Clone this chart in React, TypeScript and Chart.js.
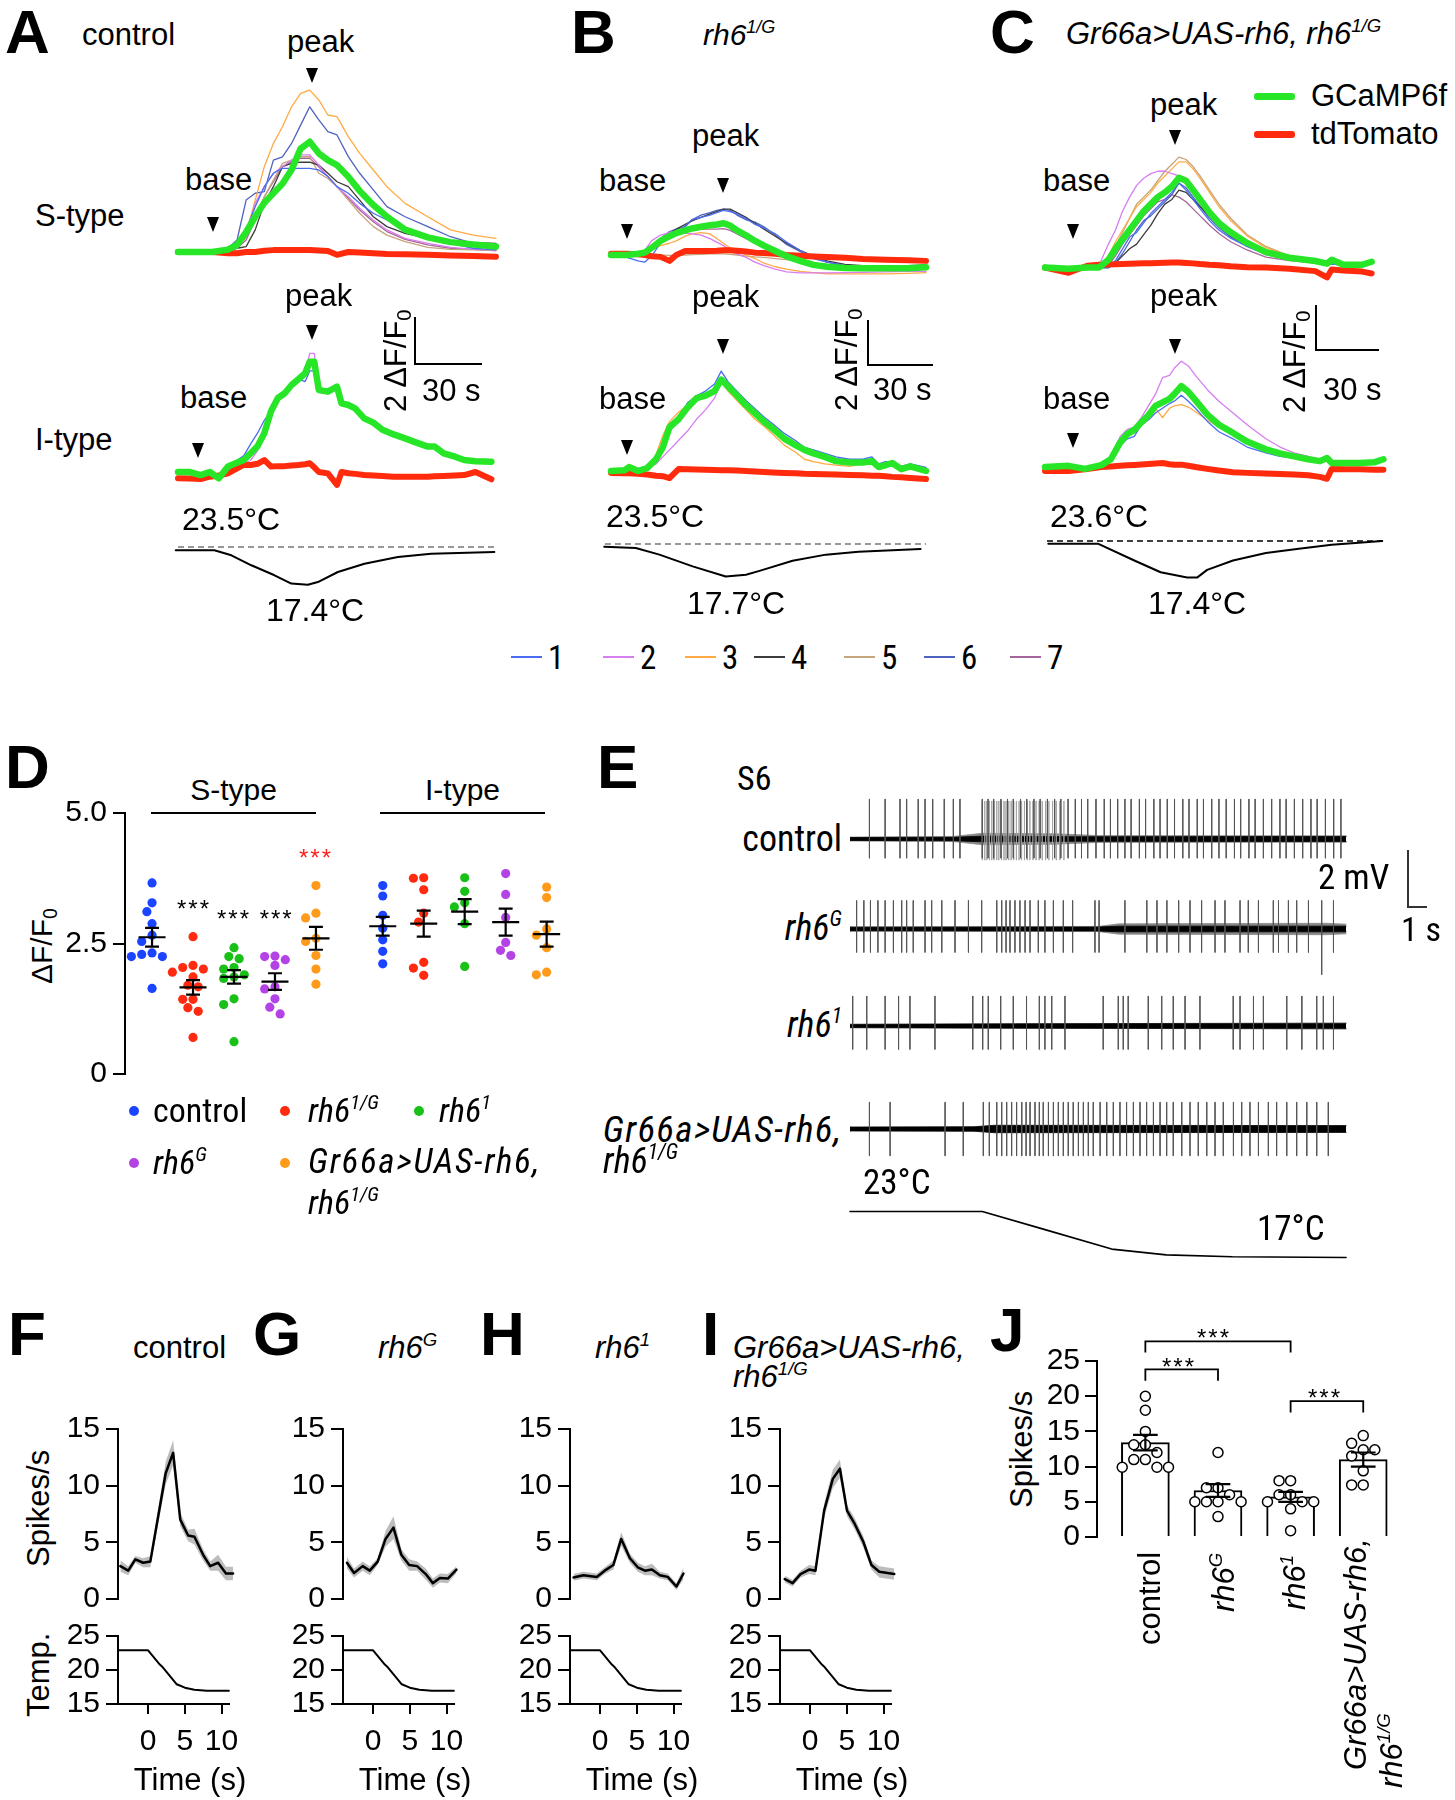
import React, { useEffect, useRef } from "react";
import { Chart, registerables } from "chart.js";
Chart.register(...registerables);

const SANS = '"Liberation Sans", Arial, Helvetica, sans-serif';
const NARROW = '"Liberation Sans Narrow", "Arial Narrow", "Roboto Condensed", "Liberation Sans", sans-serif';

const GREEN = "#27e627";
const RED = "#ff2b0c";
const THIN_COLORS = ["#4a6cf0", "#d77ef0", "#ffaa44", "#3c3c3c", "#c6a47c", "#4f62c0", "#a5659a"];
const THIN_LABELS = ["1", "2", "3", "4", "5", "6", "7"];

// ---------------- Panel A (control) ----------------
const A_S_T = [0, 15, 22, 26, 30, 34, 38, 42, 46, 50, 54, 58, 62, 66, 70, 75, 80, 86, 92, 100, 110, 120, 130, 140];
const A_S_GREEN = [0, 0, 0.1, 0.3, 0.85, 1.5, 2.1, 2.5, 2.9, 3.5, 4.4, 4.69, 4.2, 3.91, 3.7, 3.2, 2.6, 2.0, 1.5, 0.95, 0.62, 0.42, 0.32, 0.23];
const A_S_RED = [0, 0, -0.05, -0.05, 0, 0, 0.05, 0.08, 0.08, 0.08, 0.08, 0.08, 0.06, 0.04, -0.12, 0, -0.02, -0.05, -0.08, -0.1, -0.12, -0.15, -0.17, -0.2];
const A_S_1 = [0, 0, 0.09, 0.3, 0.94, 1.93, 2.78, 3.35, 3.56, 3.56, 3.56, 3.56, 3.49, 3.21, 2.78, 2.5, 2.07, 1.65, 1.36, 0.94, 0.65, 0.37, 0.16, 0.09];
const A_S_2 = [0, 0, 0, 0.16, 0.79, 2.07, 2.78, 3.35, 3.63, 3.91, 4.13, 4.13, 3.7, 3.21, 2.78, 2.35, 1.86, 1.36, 0.94, 0.58, 0.37, 0.2, 0.11, 0.09];
const A_S_3 = [0, 0, 0.07, 0.16, 0.79, 2.21, 3.63, 4.62, 5.33, 6.18, 6.75, 6.89, 6.47, 5.83, 5.76, 4.91, 4.2, 3.49, 2.78, 2.07, 1.5, 0.94, 0.72, 0.58];
const A_S_4 = [0, 0, 0, 0.16, 0.23, 0.94, 2.07, 2.78, 3.63, 3.77, 3.82, 3.82, 3.7, 3.35, 2.99, 2.78, 2.21, 1.5, 1.08, 0.79, 0.58, 0.44, 0.4, 0.37];
const A_S_5 = [0, 0, 0, 0.16, 0.65, 1.5, 2.35, 3.06, 3.77, 3.91, 4.06, 4.06, 3.35, 3.13, 2.78, 2.21, 1.65, 1.08, 0.72, 0.44, 0.2, 0.11, 0.09, 0.06];
const A_S_6 = [0, 0, 0.16, 0.51, 2.21, 2.5, 2.57, 3.91, 4.05, 4.62, 5.4, 6.18, 5.62, 5.12, 4.98, 4.06, 3.35, 2.64, 1.93, 1.5, 1.08, 0.65, 0.37, 0.23];
const A_S_7 = [0, 0, 0, 0.16, 0.51, 1.36, 2.35, 2.99, 3.63, 3.84, 3.99, 3.99, 3.63, 3.21, 2.78, 2.28, 1.79, 1.29, 0.87, 0.54, 0.3, 0.16, 0.11, 0.06];

const A_I_T = [0, 5, 10, 14, 18, 22, 26, 29, 32, 35, 38, 41, 44, 47, 50, 53, 56, 58, 60, 62, 66, 70, 72, 75, 78, 82, 86, 90, 95, 100, 105, 110, 113, 117, 122, 126, 131, 138];
const A_I_GREEN = [0, 0, -0.13, 0, -0.27, 0.23, 0.4, 0.51, 0.8, 1.1, 1.65, 2.6, 3.15, 3.35, 3.7, 3.95, 4.2, 4.69, 4.69, 3.49, 3.42, 3.63, 2.92, 2.85, 2.71, 2.28, 2.1, 1.8, 1.6, 1.43, 1.25, 1.08, 1.08, 0.79, 0.65, 0.51, 0.46, 0.44];
const A_I_RED = [-0.27, -0.28, -0.3, -0.2, -0.15, -0.06, 0.15, 0.3, 0.3, 0.35, 0.51, 0.23, 0.25, 0.25, 0.28, 0.3, 0.33, 0.37, 0.2, 0, -0.06, -0.55, 0, -0.05, -0.08, -0.13, -0.15, -0.17, -0.2, -0.2, -0.2, -0.2, -0.18, -0.17, -0.15, -0.13, 0, -0.31];
const A_I_1 = [0, 0, -0.1, 0, -0.2, 0.3, 0.5, 0.7, 1.2, 1.65, 2.2, 2.6, 3.15, 3.35, 3.7, 3.95, 3.85, 4.3, 4.3, 3.5, 3.42, 3.6, 2.95, 2.85, 2.75, 2.3, 2.1, 1.85, 1.6, 1.45, 1.25, 1.1, 1.1, 0.8, 0.65, 0.52, 0.46, 0.44];
const A_I_2 = [0, 0, -0.1, 0, -0.2, 0.2, 0.3, 0.35, 0.5, 0.9, 1.6, 2.6, 3.15, 3.35, 3.7, 3.95, 4.2, 5.05, 5.05, 3.5, 3.42, 3.63, 2.92, 2.85, 2.71, 2.28, 2.1, 1.8, 1.6, 1.43, 1.25, 1.08, 1.08, 0.79, 0.65, 0.51, 0.46, 0.44];

const A_TEMP_T = [-1, 16, 23.5, 32.3, 42.5, 49.9, 57.2, 61.6, 70.4, 82.1, 96.8, 111.5, 139.3];
const A_TEMP = [22.97, 22.97, 22.16, 20.55, 18.94, 17.6, 17.4, 17.85, 19.47, 20.8, 21.9, 22.4, 22.7];

// ---------------- Panel B (rh6 1/G) ----------------
const B_S_T = [0, 7, 12, 15, 18, 22, 26, 29, 33, 36, 40, 44, 47, 50, 53, 56, 60, 64, 68, 73, 78, 84, 90, 96, 104, 112, 122, 132, 140];
const B_S_GREEN = [0, 0, 0.05, 0.1, 0.3, 0.6, 0.8, 0.93, 1.05, 1.13, 1.2, 1.27, 1.3, 1.35, 1.25, 1.05, 0.84, 0.6, 0.4, 0.17, -0.05, -0.25, -0.42, -0.5, -0.55, -0.56, -0.56, -0.56, -0.52];
const B_S_RED = [0.05, 0.05, 0.03, 0, -0.05, -0.08, -0.25, 0, 0.17, 0.17, 0.17, 0.17, 0.18, 0.2, 0.2, 0.18, 0.15, 0.1, 0.08, 0.05, 0, -0.03, -0.06, -0.08, -0.12, -0.17, -0.2, -0.22, -0.25];
const B_S_1 = [0, -0.1, -0.25, -0.3, -0.05, 0.5, 0.7, 0.9, 1.25, 1.5, 1.6, 1.7, 1.8, 1.9, 1.85, 1.75, 1.55, 1.3, 1.15, 0.9, 0.55, 0.2, -0.1, -0.3, -0.45, -0.5, -0.5, -0.5, -0.48];
const B_S_2 = [0, 0, 0.05, 0.2, 0.6, 0.85, 0.95, 1.0, 0.93, 0.9, 0.85, 0.7, 0.55, 0.4, 0.2, 0.05, -0.1, -0.3, -0.45, -0.6, -0.72, -0.76, -0.76, -0.76, -0.75, -0.74, -0.72, -0.7, -0.7];
const B_S_3 = [0, 0, 0.05, 0.1, 0.25, 0.4, 0.5, 0.6, 0.8, 0.9, 0.95, 0.9, 0.7, 0.5, 0.3, 0.15, 0, -0.15, -0.35, -0.5, -0.6, -0.7, -0.75, -0.8, -0.8, -0.8, -0.8, -0.78, -0.75];
const B_S_4 = [0, 0, 0.05, 0.1, 0.3, 0.6, 0.9, 1.1, 1.3, 1.45, 1.6, 1.75, 1.85, 1.95, 1.95, 1.8, 1.6, 1.35, 1.1, 0.8, 0.5, 0.2, -0.05, -0.25, -0.4, -0.45, -0.45, -0.45, -0.42];
const B_S_5 = [0, 0, 0, 0, 0, 0, -0.02, -0.02, 0, 0.02, 0.03, 0.05, 0.05, 0.05, 0.03, 0, -0.05, -0.08, -0.1, -0.15, -0.2, -0.3, -0.35, -0.4, -0.45, -0.5, -0.5, -0.5, -0.5];
const B_S_6 = [0, 0, 0, 0.05, 0.4, 0.7, 1.0, 1.1, 1.2, 1.5, 1.7, 1.8, 1.9, 1.95, 1.9, 1.7, 1.5, 1.4, 1.2, 0.85, 0.45, 0.15, -0.15, -0.3, -0.45, -0.5, -0.5, -0.5, -0.5];
const B_S_7 = [0, 0, 0.05, 0.1, 0.35, 0.6, 0.8, 0.95, 1.0, 1.05, 1.1, 1.1, 1.1, 1.12, 1.05, 0.9, 0.7, 0.5, 0.3, 0.1, -0.1, -0.3, -0.45, -0.5, -0.5, -0.5, -0.5, -0.5, -0.48];

const B_I_T = [0, 6, 8, 12, 16, 20, 23, 26, 30, 34, 38, 42, 46, 49, 52, 56, 60, 64, 68, 72, 77, 82, 86, 90, 95, 100, 106, 112, 116, 119, 122, 125, 129, 133, 140];
const B_I_GREEN = [0, 0.03, 0.17, 0, 0.12, 0.5, 1.0, 1.86, 2.2, 2.7, 3.1, 3.21, 3.4, 3.89, 3.6, 3.21, 2.8, 2.45, 2.1, 1.8, 1.38, 1.1, 0.9, 0.75, 0.6, 0.42, 0.36, 0.36, 0.42, 0.17, 0.25, 0.34, 0.08, 0.2, 0];
const B_I_RED = [-0.08, -0.1, -0.1, -0.12, -0.15, -0.2, -0.22, -0.3, 0.08, 0.07, 0.06, 0.05, 0.04, 0.03, 0.03, 0.02, 0, -0.02, -0.04, -0.06, -0.08, -0.1, -0.12, -0.13, -0.14, -0.15, -0.17, -0.18, -0.2, -0.2, -0.22, -0.25, -0.27, -0.3, -0.34];
const B_I_1 = [0, 0.02, 0.1, 0, 0.1, 0.5, 1.0, 1.7, 2.2, 2.9, 3.2, 3.4, 3.7, 4.25, 3.8, 3.4, 3.0, 2.65, 2.3, 2.0, 1.6, 1.3, 1.0, 0.9, 0.75, 0.6, 0.5, 0.5, 0.6, 0.3, 0.4, 0.4, 0.2, 0.3, 0.15];
const B_I_2 = [0, 0.02, 0.1, 0, 0.1, 0.3, 0.6, 0.9, 1.3, 1.7, 2.2, 2.6, 3.1, 3.8, 3.6, 3.3, 2.9, 2.55, 2.2, 1.9, 1.5, 1.2, 1.0, 0.85, 0.7, 0.55, 0.45, 0.4, 0.45, 0.2, 0.3, 0.3, 0.1, 0.2, 0.05];
const B_I_3 = [0, 0.02, 0.1, 0, 0.15, 0.7, 1.5, 2.1, 2.5, 2.8, 3.2, 3.2, 3.3, 3.8, 3.4, 3.0, 2.6, 2.2, 1.9, 1.55, 1.1, 0.8, 0.5, 0.4, 0.3, 0.25, 0.2, 0.3, 0.35, 0.15, 0.2, 0.25, 0.1, 0.2, 0.05];

const B_TEMP_T = [-3, 11, 21.5, 36.3, 51, 60, 66, 80.7, 95.5, 110, 137.6];
const B_TEMP = [23.0, 22.8, 21.6, 19.5, 17.7, 18.0, 18.7, 20.5, 21.6, 22.1, 22.6];

// ---------------- Panel C (rescue) ----------------
const C_S_T = [0, 10, 18, 23, 27, 30, 33, 36, 39, 42, 45, 48, 51, 54, 57, 60, 63, 66, 70, 74, 79, 86, 94, 104, 115, 120, 122, 127, 135, 139];
const C_S_GREEN = [0, -0.05, 0, 0, 0.33, 0.8, 1.2, 1.6, 2.0, 2.4, 2.7, 3.0, 3.2, 3.45, 3.82, 3.7, 3.3, 2.9, 2.35, 1.9, 1.5, 1.05, 0.66, 0.42, 0.28, 0.17, 0.33, 0.12, 0.12, 0.25];
const C_S_RED = [0, -0.22, 0.08, 0.12, 0.13, 0.14, 0.15, 0.16, 0.17, 0.18, 0.19, 0.2, 0.21, 0.22, 0.22, 0.2, 0.18, 0.15, 0.12, 0.1, 0.06, 0.02, 0, -0.05, -0.15, -0.42, -0.08, -0.12, -0.17, -0.25];
const C_S_1 = [0, 0, 0, 0, 0, 0.3, 0.8, 1.3, 1.5, 1.9, 2.3, 2.6, 2.9, 3.2, 3.6, 3.3, 2.9, 2.5, 2.0, 1.6, 1.25, 0.9, 0.55, 0.35, 0.2, 0.15, 0.15, 0.12, 0.12, 0.2];
const C_S_2 = [0, 0, 0, 0.1, 1.0, 1.6, 2.4, 3.0, 3.5, 3.8, 4.0, 4.1, 4.1, 4.0, 3.9, 3.8, 3.4, 2.9, 2.3, 1.8, 1.4, 0.95, 0.6, 0.35, 0.2, 0.15, 0.15, 0.12, 0.12, 0.15];
const C_S_3 = [0, 0, 0, 0.05, 0.5, 1.1, 1.6, 2.1, 2.6, 2.9, 3.2, 3.6, 3.9, 4.2, 4.5, 4.5, 4.2, 3.8, 3.2, 2.6, 2.0, 1.35, 0.85, 0.5, 0.3, 0.25, 0.25, 0.2, 0.2, 0.2];
const C_S_4 = [0, 0, 0, 0, 0, 0.2, 0.5, 0.8, 1.0, 1.4, 1.8, 2.3, 2.7, 2.9, 3.3, 3.2, 2.9, 2.6, 2.2, 1.8, 1.35, 0.95, 0.6, 0.4, 0.25, 0.2, 0.2, 0.2, 0.2, 0.2];
const C_S_5 = [0, 0, 0, 0.02, 0.3, 0.9, 1.5, 2.1, 2.7, 3.0, 3.3, 3.7, 4.1, 4.4, 4.7, 4.6, 4.3, 3.9, 3.3, 2.7, 2.1, 1.4, 0.9, 0.5, 0.3, 0.25, 0.25, 0.2, 0.2, 0.2];
const C_S_6 = [0, 0, 0, 0, 0, 0.2, 0.6, 1.1, 1.6, 2.0, 2.2, 2.5, 2.8, 3.1, 3.6, 3.4, 3.0, 2.6, 2.1, 1.7, 1.3, 0.9, 0.6, 0.35, 0.2, 0.15, 0.15, 0.12, 0.12, 0.2];
const C_S_7 = [0, 0, 0, 0, 0.1, 0.5, 1.0, 1.4, 1.8, 2.2, 2.5, 2.8, 2.9, 3.1, 3.0, 2.8, 2.5, 2.2, 1.8, 1.45, 1.1, 0.75, 0.45, 0.3, 0.2, 0.15, 0.15, 0.12, 0.12, 0.15];

const C_I_T = [0, 10, 17, 24, 28, 32, 35, 38, 41, 44, 47, 50, 53, 55, 58, 61, 64, 69, 74, 80, 86, 94, 100, 106, 112, 117, 120, 122, 128, 134, 140, 144];
const C_I_GREEN = [0, 0.05, -0.08, 0.08, 0.33, 1.05, 1.4, 1.58, 1.9, 2.2, 2.6, 2.75, 2.9, 3.1, 3.44, 3.2, 2.85, 2.24, 1.8, 1.45, 1.08, 0.75, 0.58, 0.45, 0.33, 0.25, 0.38, 0.17, 0.17, 0.17, 0.2, 0.33];
const C_I_RED = [-0.17, -0.17, -0.1, 0, 0.02, 0.05, 0.07, 0.09, 0.11, 0.13, 0.15, 0.17, 0.12, 0.1, 0.1, 0.05, 0, -0.08, -0.15, -0.22, -0.25, -0.28, -0.3, -0.32, -0.35, -0.42, -0.5, -0.08, -0.1, -0.1, -0.12, -0.12];
const C_I_1 = [0, 0.05, -0.08, 0.08, 0.3, 0.9, 1.2, 1.3, 1.8, 2.0, 2.3, 2.5, 2.7, 2.8, 3.05, 2.8, 2.5, 1.95, 1.5, 1.2, 0.85, 0.6, 0.45, 0.38, 0.3, 0.25, 0.35, 0.17, 0.17, 0.17, 0.2, 0.33];
const C_I_2 = [0, 0.05, -0.08, 0.08, 0.4, 1.3, 1.6, 1.7, 2.1, 2.6, 3.1, 3.8, 3.9, 4.2, 4.5, 4.3, 3.9, 3.3, 2.8, 2.3, 1.8, 1.2, 0.85, 0.6, 0.45, 0.3, 0.4, 0.2, 0.2, 0.2, 0.25, 0.35];
const C_I_3 = [0, 0.05, -0.08, 0.08, 0.3, 1.0, 1.3, 1.5, 1.8, 2.1, 2.5, 2.1, 2.5, 2.6, 2.65, 2.55, 2.35, 2.0, 1.7, 1.4, 1.05, 0.75, 0.55, 0.45, 0.35, 0.28, 0.35, 0.2, 0.2, 0.2, 0.25, 0.4];

const C_TEMP_T = [1.4, 22.5, 38, 49.2, 60.5, 64.7, 69, 80, 94, 108, 122, 143.5];
const C_TEMP = [23.15, 23.15, 20.3, 18.3, 17.4, 17.4, 18.7, 20.3, 21.55, 22.3, 22.95, 23.6];

// ---------------- Panel D ----------------
const D_GROUPS = [
  [3.66, 3.28, 3.11, 2.88, 2.66, 2.54, 2.32, 2.29, 2.25, 2.25, 1.64],
  [2.63, 2.08, 2.04, 2.01, 1.95, 1.86, 1.7, 1.67, 1.43, 1.43, 1.27, 1.2, 0.7],
  [2.42, 2.25, 2.21, 2.04, 2.01, 1.9, 1.86, 1.83, 1.44, 1.33, 0.62],
  [2.26, 2.25, 2.19, 2.08, 1.67, 1.63, 1.44, 1.28, 1.15],
  [3.61, 3.08, 2.99, 2.6, 2.54, 2.27, 2.01, 1.72],
  [3.61, 3.41, 3.04, 2.79, 2.57, 2.35, 2.11],
  [3.76, 3.75, 3.53, 3.08, 2.91, 2.14, 2.03, 1.89],
  [3.76, 3.5, 3.28, 3.2, 2.88, 2.06],
  [3.84, 3.44, 3.0, 2.52, 2.37, 2.27],
  [3.58, 3.38, 2.78, 2.66, 2.42, 1.95, 1.9],
];
const D_MEAN = [2.62, 1.66, 1.86, 1.77, 2.6, 2.83, 2.88, 3.11, 2.91, 2.68];
const D_SEM = [0.18, 0.14, 0.13, 0.16, 0.22, 0.18, 0.25, 0.24, 0.26, 0.24];
const D_COLORS = ["#1a44ff", "#ff2a10", "#18c018", "#b443e6", "#ff9a1a"];
const D_TICKS = [0, 2.5, 5];
const D_TICK_LABELS = ["0", "2.5", "5.0"];

// ---------------- Panel E ----------------
const E_CTRL_SPIKES = [0.94, 1.7, 2.42, 2.74, 3.3, 3.63, 4.0, 4.56, 5.0, 5.32, 6.4, 6.68, 6.95, 7.3, 7.62, 7.9, 8.25, 8.55, 8.9, 9.2, 9.55, 9.9, 10.2, 10.55, 10.9, 11.2, 11.5, 11.9, 12.3, 12.6, 12.95, 13.3, 13.6, 14.0, 14.3, 14.7, 15.0, 15.35, 15.7, 16.1, 16.4, 16.8, 17.1, 17.5, 17.85, 18.2, 18.6, 18.9, 19.3, 19.6, 20.0, 20.4, 20.8, 21.1, 21.5, 21.9, 22.3, 22.6, 23.0, 23.4, 23.75];
const E_CTRL_BURST = [6.4, 6.52, 6.62, 6.75, 6.86, 6.97, 7.1, 7.2, 7.33, 7.45, 7.55, 7.68, 7.8, 7.92, 8.05, 8.18, 8.3, 8.44, 8.57, 8.7, 8.85, 9.0, 9.15, 9.3, 9.46, 9.62, 9.8, 9.98, 10.15, 10.35];
const E_RH6G_SPIKES = [0.32, 0.67, 0.99, 1.35, 1.7, 2.1, 2.5, 2.74, 3.06, 3.63, 3.95, 4.44, 5.08, 5.73, 6.37, 7.1, 7.34, 7.55, 7.74, 7.98, 8.22, 8.47, 8.71, 9.11, 9.43, 9.84, 10.32, 10.77, 11.85, 12.05, 13.3, 14.36, 14.85, 15.33, 15.9, 16.45, 17.01, 17.66, 18.14, 18.87, 19.27, 19.76, 20.48, 20.73, 21.21, 21.61, 22.18, 23.39];
const E_RH6G_LONG = [22.82];
const E_RH61_SPIKES = [0.13, 0.81, 1.7, 2.35, 2.9, 4.11, 5.94, 6.42, 6.69, 7.29, 7.9, 8.54, 9.16, 9.43, 9.76, 10.4, 12.25, 12.98, 13.22, 13.46, 14.43, 15.08, 15.64, 16.21, 16.93, 18.54, 18.87, 19.52, 20.0, 21.13, 21.86, 22.58, 22.9, 23.39];
const E_GR_SPIKES = [0.94, 1.94, 4.6, 5.48, 6.45, 6.74, 7.1, 7.34, 7.58, 7.82, 8.06, 8.31, 8.52, 8.71, 8.95, 9.16, 9.35, 9.6, 9.84, 10.08, 10.32, 10.56, 10.8, 11.05, 11.29, 11.53, 11.77, 12.1, 12.42, 12.74, 13.06, 13.38, 13.71, 14.03, 14.35, 14.68, 15.0, 15.32, 15.64, 16.05, 16.45, 16.85, 17.26, 17.66, 18.06, 18.55, 18.95, 19.35, 19.76, 20.24, 20.64, 21.13, 21.61, 22.1, 22.58, 23.14];
const E_UP = [1.4, 1.0, 1.05, 0.94];
const E_DOWN = [0.67, 0.82, 0.82, 0.94];
const E_CTRL_NT = [0, 5, 6.4, 11, 24];
const E_CTRL_NHW = [0.05, 0.06, 0.1, 0.08, 0.09];
const E_CTRL_GT = [0, 5, 6.4, 10, 12, 24];
const E_CTRL_GHW = [0.07, 0.09, 0.2, 0.18, 0.12, 0.11];
const E_RH6G_NT = [0, 12, 13, 24];
const E_RH6G_NHW = [0.06, 0.07, 0.1, 0.1];
const E_RH6G_GT = [0, 12, 13, 23, 24];
const E_RH6G_GHW = [0.08, 0.09, 0.18, 0.2, 0.17];
const E_RH61_NT = [0, 8, 24];
const E_RH61_NHW = [0.06, 0.08, 0.1];
const E_GR_NT = [0, 6, 7, 24];
const E_GR_NHW = [0.07, 0.08, 0.13, 0.12];
const E_TEMP_T = [0, 6.4, 9.35, 12.66, 15.3, 18.5, 24];
const E_TEMP = [23, 23, 20.7, 18.1, 17.35, 17.1, 17.0];

// ---------------- Panels F-I ----------------
const F_T = [-3.8, -2.8, -1.9, -0.9, 0, 1.2, 1.95, 2.9, 3.8, 4.8, 5.6, 6.7, 7.6, 8.6, 9.6, 10.5];
const F_M = [2.9, 2.5, 3.5, 3.2, 3.3, 8.1, 11.1, 12.9, 7.0, 5.6, 5.5, 3.9, 2.9, 3.2, 2.25, 2.25];
const F_SEM = [0.5, 0.4, 0.3, 0.4, 0.5, 0.7, 1.0, 1.1, 0.6, 0.5, 0.7, 0.5, 0.4, 0.7, 0.6, 0.6];
const G_T = [-3.6, -2.7, -1.6, -0.7, 0.3, 1.3, 2.3, 3.3, 4.3, 5.3, 6.4, 7.3, 8.2, 9.2, 10.3];
const G_M = [3.2, 2.3, 2.9, 2.5, 3.3, 5.3, 6.3, 3.9, 3.0, 2.9, 2.2, 1.4, 1.85, 1.8, 2.6];
const G_SEM = [0.5, 0.4, 0.4, 0.4, 0.3, 0.7, 1.0, 0.5, 0.5, 0.4, 0.5, 0.4, 0.4, 0.4, 0.3];
const H_T = [-3.65, -2.4, -0.7, 0.3, 1.4, 2.4, 3.5, 4.5, 5.4, 6.3, 7.3, 8.3, 9.4, 10.3];
const H_M = [1.9, 2.1, 1.95, 2.5, 3.0, 5.3, 3.6, 2.8, 2.5, 2.6, 2.1, 1.95, 1.1, 2.25];
const H_SEM = [0.3, 0.3, 0.3, 0.3, 0.4, 0.6, 0.4, 0.4, 0.4, 0.5, 0.3, 0.3, 0.3, 0.5];
const I_T = [-3.5, -2.5, -1.5, -0.4, 0.4, 1.5, 2.6, 3.5, 4.4, 5.4, 6.5, 7.5, 8.5, 10.4];
const I_M = [1.75, 1.4, 2.2, 2.6, 2.5, 7.8, 10.6, 11.5, 7.8, 6.6, 5.0, 3.0, 2.4, 2.2];
const I_SEM = [0.3, 0.3, 0.3, 0.4, 0.4, 0.6, 0.8, 0.8, 0.5, 0.5, 0.5, 0.4, 0.5, 0.5];
const FI_TEMP_T = [-4.1, 0, 1.6, 2, 2.9, 3.9, 5, 6.3, 8, 11];
const FI_TEMP = [22.9, 22.9, 20.8, 20.4, 19.2, 17.9, 17.4, 17.1, 16.95, 16.95];
const FI_SPIKE_TICKS = [0, 5, 10, 15];
const FI_TEMP_TICKS = [15, 20, 25];
const FI_TIME_TICKS = [0, 5, 10];

// ---------------- Panel J ----------------
const J_GROUPS = [
  [20.0, 18.0, 15.0, 13.1, 13.1, 12.0, 11.0, 11.0, 9.9, 9.9, 9.9],
  [12.0, 7.0, 7.0, 6.0, 5.0, 5.0, 5.0, 5.0, 2.9],
  [8.0, 8.0, 6.0, 6.0, 5.0, 5.0, 5.0, 4.0, 0.9],
  [14.4, 13.3, 12.4, 12.4, 11.5, 9.4, 7.4, 7.4],
];
const J_MEAN = [13.4, 6.6, 5.7, 11.0];
const J_SEM = [1.1, 0.9, 0.7, 1.0];
const J_TICKS = [0, 5, 10, 15, 20, 25];
const J_SIG_PAIRS = [[0, 2], [0, 1], [2, 3]];
const J_SIG_TOP = [27.8, 23.8, 19.3];
const J_SIG_LEG = 1.6;

// ================= helpers =================
const pts = (t: number[], v: number[]) => t.map((x, i) => ({ x, y: v[i] }));
const line = (data: any[], color: string, width: number, extra: any = {}) => ({
  type: "line", data, borderColor: color, backgroundColor: color, borderWidth: width,
  pointRadius: 0, fill: false, tension: 0, clip: false, borderJoinStyle: "round", borderCapStyle: "round", ...extra,
});
const baseOptions = (scales: any, padding: any = 0) => ({
  responsive: false, animation: false, devicePixelRatio: 1, events: [],
  layout: { padding },
  plugins: { legend: { display: false }, tooltip: { enabled: false } },
  scales,
});

function ChartCanvas({ left, top, width, height, config }: any) {
  const ref = useRef<HTMLCanvasElement>(null);
  useEffect(() => {
    const chart = new Chart(ref.current as HTMLCanvasElement, config());
    return () => chart.destroy();
  }, []);
  return <canvas ref={ref} width={width} height={height} style={{ position: "absolute", left, top, width, height }} />;
}

function MappedChart({ left, top, width, height, x0, pps, y0, ppu, v0 = 0, datasets }: any) {
  const L = Math.round(left), T = Math.round(top), W = Math.round(width), H = Math.round(height);
  const xMin = (L - x0) / pps, xMax = (L + W - x0) / pps;
  const yMax = v0 + (y0 - T) / ppu, yMin = v0 - (T + H - y0) / ppu;
  return (
    <ChartCanvas left={L} top={T} width={W} height={H} config={() => ({
      type: "line", data: { datasets },
      options: baseOptions({ x: { type: "linear", display: false, min: xMin, max: xMax }, y: { type: "linear", display: false, min: yMin, max: yMax } }),
    })} />
  );
}

function Txt({ x, y, size, children, family = SANS, weight = 400, italic = false, color = "#000", anchor = "start", ls }: any) {
  const style: any = {
    position: "absolute", top: y - 0.85 * size, fontSize: size, lineHeight: `${size}px`, fontFamily: family,
    fontWeight: weight, fontStyle: italic ? "italic" : "normal", color, whiteSpace: "nowrap", letterSpacing: ls,
  };
  if (anchor === "end") style.right = 1455 - x;
  else if (anchor === "middle") { style.left = x; style.transform = "translateX(-50%)"; }
  else style.left = x;
  return <div style={style}>{children}</div>;
}
function RotTxt({ cx, yb, size, children, family = SANS, italic = false }: any) {
  return (
    <div style={{
      position: "absolute", left: cx - size / 2, top: yb, transform: "rotate(-90deg)", transformOrigin: "0 0",
      fontSize: size, lineHeight: `${size}px`, fontFamily: family, fontStyle: italic ? "italic" : "normal", whiteSpace: "nowrap", color: "#000",
    }}>{children}</div>
  );
}
const Sup = ({ children }: any) => <span style={{ fontSize: "0.6em", position: "relative", top: "-0.65em", verticalAlign: "baseline" }}>{children}</span>;
const Sub = ({ children }: any) => <span style={{ fontSize: "0.65em", position: "relative", top: "0.25em", verticalAlign: "baseline" }}>{children}</span>;
const Rh = ({ sup }: any) => <span style={{ fontStyle: "italic" }}>rh6<Sup>{sup}</Sup></span>;
const Tri = ({ cx, top }: any) => <div style={{ position: "absolute", left: cx - 6.5, top, width: 0, height: 0, borderLeft: "6.5px solid transparent", borderRight: "6.5px solid transparent", borderTop: "15px solid #000" }} />;
const Box = ({ l, t, w, h, c = "#000", r }: any) => <div style={{ position: "absolute", left: l, top: t, width: w, height: h, background: c, borderRadius: r }} />;

// deterministic beeswarm (layout only)
function swarm(vals: number[], pxX: number, pxY: number, diam: number) {
  const placed: { x: number; y: number }[] = [];
  return vals.map((v) => {
    const y = v * pxY;
    const cands = [0, -1, 1, -2, 2, -3, 3, -4, 4];
    for (const k of cands) {
      const x = k * diam * 0.55;
      if (placed.every((p) => Math.hypot(p.x - x, p.y - y) >= diam * 0.98)) {
        placed.push({ x, y });
        return x / pxX;
      }
    }
    return 0;
  });
}

// ================= panels A-C =================
function tracesets(T: number[], green: number[], red: number[], thin: (number[] | null)[]) {
  const ds: any[] = [line(pts(T, green), GREEN, 6.5), line(pts(T, red), RED, 6)];
  thin.forEach((v, i) => { if (v) ds.push(line(pts(T, v), THIN_COLORS[i], 1.3)); });
  return ds;
}

function TracePanel({ x0, pps, y0, tEnd, datasets }: any) {
  const ppu = 23.5;
  return <MappedChart left={x0 - 14} top={y0 - 8 * ppu} width={tEnd * pps + 28} height={9.5 * ppu} x0={x0} pps={pps} y0={y0} ppu={ppu} datasets={datasets} />;
}
function TempPanel({ x0, pps, y0, ppd, tref, T, V, dash, dashColor }: any) {
  return (
    <MappedChart left={x0 - 14} top={y0 - 16} width={150 * pps} height={62} x0={x0} pps={pps} y0={y0} ppu={ppd} v0={tref}
      datasets={[line(pts(T, V), "#000", 2), line(pts(dash, [tref, tref]), dashColor, 1.4, { borderDash: [6, 4], borderCapStyle: "butt" })]} />
  );
}

// ================= F-I panel =================
const YW = 70;
function FIPanel({ ax, T, M, SEM }: any) {
  const up = M.map((m: number, i: number) => m + SEM[i]);
  const lo = M.map((m: number, i: number) => m - SEM[i]);
  const axisCommon = (ticks: number[], pad = 6) => ({
    grid: { display: true, drawOnChartArea: false, drawTicks: true, tickLength: 12, color: "#000", lineWidth: 2 },
    border: { display: true, color: "#000", width: 2 },
    ticks: { color: "#000", font: { family: SANS, size: 30 }, padding: pad, autoSkip: false, maxRotation: 0 },
    afterBuildTicks: (s: any) => { s.ticks = ticks.map((v) => ({ value: v })); },
  });
  return (
    <>
      <ChartCanvas left={ax - YW} top={1405} width={YW + 119 + 12} height={218} config={() => ({
        type: "line",
        data: { datasets: [line(pts(T, M), "#000", 2.5), line(pts(T, up), "rgba(0,0,0,0)", 0), line(pts(T, lo), "rgba(0,0,0,0)", 0, { fill: "-1", backgroundColor: "#bdbdbd" })] },
        options: baseOptions({
          x: { type: "linear", display: false, min: -4.1, max: 11 },
          y: { type: "linear", min: 0, max: 15, ...axisCommon(FI_SPIKE_TICKS), afterFit: (s: any) => { s.width = YW; } },
        }, { top: 20, right: 12, bottom: 20, left: 0 }),
      })} />
      <ChartCanvas left={ax - YW} top={1612} width={YW + 119 + 12} height={20 + 72 + 60} config={() => ({
        type: "line",
        data: { datasets: [line(pts(FI_TEMP_T, FI_TEMP), "#000", 2)] },
        options: baseOptions({
          x: { type: "linear", min: -4.1, max: 11, ...axisCommon(FI_TIME_TICKS, 10), grid: { display: true, drawOnChartArea: false, drawTicks: true, tickLength: 10, color: "#000", lineWidth: 2 }, afterFit: (s: any) => { s.height = 60; } },
          y: { type: "linear", min: 15, max: 25, ...axisCommon(FI_TEMP_TICKS), afterFit: (s: any) => { s.width = YW; } },
        }, { top: 20, right: 12, bottom: 0, left: 0 }),
      })} />
    </>
  );
}

// ================= D chart =================
const D_POS = [0, 1, 2, 3, 4, 5.63, 6.63, 7.63, 8.63, 9.63];
function DChart() {
  const pxX = 41, pxY = 53.8;
  const datasets: any[] = [];
  const eb: any[] = [];
  D_POS.forEach((x, i) => {
    const m = D_MEAN[i], s = D_SEM[i];
    eb.push({ x: x - 0.33, y: m }, { x: x + 0.33, y: m }, { x, y: null },
      { x: x - 0.17, y: m + s }, { x: x + 0.17, y: m + s }, { x, y: null },
      { x: x - 0.17, y: m - s }, { x: x + 0.17, y: m - s }, { x, y: null },
      { x, y: m + s }, { x, y: m - s }, { x, y: null });
  });
  datasets.push(line(eb, "#000", 2.2, { borderCapStyle: "butt" }));
  D_GROUPS.forEach((vals, i) => {
    const offs = swarm(vals, pxX, pxY, 9.4);
    datasets.push({ type: "scatter", data: vals.map((v, k) => ({ x: D_POS[i] + offs[k], y: v })), pointRadius: 4.6, pointBackgroundColor: D_COLORS[i % 5], pointBorderWidth: 0, clip: false });
  });
  return (
    <ChartCanvas left={65} top={789} width={60 + 445 + 10} height={20 + 269 + 20} config={() => ({
      type: "scatter", data: { datasets },
      options: baseOptions({
        x: { type: "linear", display: false, min: -0.66, max: 10.2 },
        y: {
          type: "linear", min: 0, max: 5,
          grid: { display: true, drawOnChartArea: false, drawTicks: true, tickLength: 12, color: "#000", lineWidth: 2 },
          border: { display: true, color: "#000", width: 2 },
          ticks: { color: "#000", font: { family: SANS, size: 30 }, padding: 6, autoSkip: false, callback: (v: number) => D_TICK_LABELS[D_TICKS.indexOf(v)] },
          afterBuildTicks: (s: any) => { s.ticks = D_TICKS.map((v) => ({ value: v })); },
          afterFit: (s: any) => { s.width = 60; },
        },
      }, { top: 20, right: 10, bottom: 20, left: 0 }),
    })} />
  );
}

// ================= J chart =================
const J_POS = [1, 2, 3, 4];
function JChart() {
  const pxX = 72.5, pxY = 7.16;
  const eb: any[] = [];
  J_POS.forEach((x, i) => {
    const m = J_MEAN[i], s = J_SEM[i];
    eb.push({ x: x - 0.17, y: m + s }, { x: x + 0.17, y: m + s }, { x, y: null },
      { x: x - 0.17, y: m - s }, { x: x + 0.17, y: m - s }, { x, y: null },
      { x, y: m + s }, { x, y: m - s }, { x, y: null });
  });
  const br: any[] = [];
  J_SIG_PAIRS.forEach(([a, b], k) => {
    const top = J_SIG_TOP[k];
    br.push({ x: J_POS[a], y: top - J_SIG_LEG }, { x: J_POS[a], y: top }, { x: J_POS[b], y: top }, { x: J_POS[b], y: top - J_SIG_LEG }, { x: J_POS[b], y: null });
  });
  const pointsData: any[] = [];
  J_GROUPS.forEach((vals, i) => {
    const offs = swarm(vals, pxX, pxY, 10.5);
    vals.forEach((v, k) => pointsData.push({ x: J_POS[i] + offs[k], y: v }));
  });
  const datasets: any[] = [
    { ...line(br, "#000", 1.8, { borderCapStyle: "butt", borderJoinStyle: "miter" }), order: 0 },
    { ...line(eb, "#000", 2.2, { borderCapStyle: "butt" }), order: 1 },
    { type: "scatter", data: pointsData, pointRadius: 5, pointBackgroundColor: "#fff", pointBorderColor: "#000", pointBorderWidth: 1.5, order: 2, clip: false },
    { type: "bar", data: J_POS.map((x, i) => ({ x, y: J_MEAN[i] })), barThickness: 48, backgroundColor: "#fff", borderColor: "#000", borderWidth: 2, order: 3 },
  ];
  return (
    <ChartCanvas left={1027} top={1291} width={70 + 304 + 12} height={70 + 179 + 20} config={() => ({
      type: "bar", data: { datasets },
      options: baseOptions({
        x: { type: "linear", display: false, offset: false, min: 0.334, max: 4.52 },
        y: {
          type: "linear", min: 0, max: 25,
          grid: { display: true, drawOnChartArea: false, drawTicks: true, tickLength: 12, color: "#000", lineWidth: 2 },
          border: { display: true, color: "#000", width: 2 },
          ticks: { color: "#000", font: { family: SANS, size: 30 }, padding: 5, autoSkip: false },
          afterBuildTicks: (s: any) => { s.ticks = J_TICKS.map((v) => ({ value: v })); },
          afterFit: (s: any) => { s.width = 70; },
        },
      }, { top: 70, right: 12, bottom: 20, left: 0 }),
    })} />
  );
}

// ================= E =================
const spikeData = (times: number[], up: number, down: number) => times.flatMap((t) => [{ x: t, y: up }, { x: t, y: -down }, { x: t, y: null }]);
const envelope = (T: number[], hw: number[], color: string) => [
  line(pts(T, hw), color, 0.8),
  line(T.map((x, i) => ({ x, y: -hw[i] })), color, 0.8, { fill: "-1", backgroundColor: color }),
];
function ETrace({ base, datasets }: any) {
  return <MappedChart left={845} top={base - 50} width={510} height={115} x0={850} pps={20.67} y0={base} ppu={28.5} datasets={datasets} />;
}

export default function App() {
  return (
    <div style={{ position: "absolute", left: 0, top: 0, width: 1455, height: 1800, background: "#fff", overflow: "hidden", fontFamily: SANS }}>
      {/* ---------- A ---------- */}
      <Txt x={5} y={54} size={62} weight={700}>A</Txt>
      <Txt x={82} y={45} size={31}>control</Txt>
      <Txt x={287} y={52} size={31}>peak</Txt>
      <Tri cx={312} top={68} />
      <Txt x={185} y={190} size={31}>base</Txt>
      <Tri cx={213} top={217} />
      <Txt x={35} y={226} size={31}>S-type</Txt>
      <TracePanel x0={178} pps={2.271} y0={252} tEnd={140} datasets={tracesets(A_S_T, A_S_GREEN, A_S_RED, [A_S_1, A_S_2, A_S_3, A_S_4, A_S_5, A_S_6, A_S_7])} />
      <Txt x={285} y={306} size={31}>peak</Txt>
      <Tri cx={312} top={325} />
      <Txt x={180} y={408} size={31}>base</Txt>
      <Tri cx={198} top={443} />
      <Txt x={35} y={450} size={31}>I-type</Txt>
      <TracePanel x0={178} pps={2.271} y0={472} tEnd={140} datasets={tracesets(A_I_T, A_I_GREEN, A_I_RED, [A_I_1, A_I_2])} />
      <Box l={414} t={317} w={2} h={48} />
      <Box l={414} t={363} w={68} h={2} />
      <RotTxt cx={395} yb={412} size={31}>2 ΔF/F<Sub>0</Sub></RotTxt>
      <Txt x={422} y={401} size={31}>30 s</Txt>
      <Txt x={182} y={530} size={32}>23.5°C</Txt>
      <TempPanel x0={178} pps={2.271} y0={547} ppd={6.2} tref={23.5} T={A_TEMP_T} V={A_TEMP} dash={[0, 140]} dashColor="#777" />
      <Txt x={266} y={621} size={32}>17.4°C</Txt>

      {/* ---------- B ---------- */}
      <Txt x={571} y={54} size={62} weight={700}>B</Txt>
      <Txt x={703} y={45} size={30}><Rh sup="1/G" /></Txt>
      <Txt x={692} y={146} size={31}>peak</Txt>
      <Tri cx={723} top={178} />
      <Txt x={599} y={191} size={31}>base</Txt>
      <Tri cx={627} top={224} />
      <TracePanel x0={611} pps={2.25} y0={255} tEnd={140} datasets={tracesets(B_S_T, B_S_GREEN, B_S_RED, [B_S_1, B_S_2, B_S_3, B_S_4, B_S_5, B_S_6, B_S_7])} />
      <Txt x={692} y={307} size={31}>peak</Txt>
      <Tri cx={723} top={339} />
      <Txt x={599} y={409} size={31}>base</Txt>
      <Tri cx={627} top={440} />
      <TracePanel x0={611} pps={2.25} y0={471} tEnd={140} datasets={tracesets(B_I_T, B_I_GREEN, B_I_RED, [B_I_1, B_I_2, B_I_3])} />
      <Box l={867} t={320} w={2} h={46} />
      <Box l={867} t={364} w={66} h={2} />
      <RotTxt cx={846} yb={411} size={31}>2 ΔF/F<Sub>0</Sub></RotTxt>
      <Txt x={873} y={400} size={31}>30 s</Txt>
      <Txt x={606} y={527} size={32}>23.5°C</Txt>
      <TempPanel x0={611} pps={2.25} y0={544} ppd={5.6} tref={23.5} T={B_TEMP_T} V={B_TEMP} dash={[-2.7, 140]} dashColor="#777" />
      <Txt x={687} y={614} size={32}>17.7°C</Txt>

      {/* ---------- C ---------- */}
      <Txt x={990} y={54} size={62} weight={700}>C</Txt>
      <Txt x={1066} y={44} size={31} italic>Gr66a&gt;UAS-rh6, rh6<Sup>1/G</Sup></Txt>
      <Box l={1254} t={93} w={41} h={7} c={GREEN} r={3} />
      <Txt x={1311} y={106} size={31}>GCaMP6f</Txt>
      <Box l={1254} t={131} w={41} h={7} c={RED} r={3} />
      <Txt x={1311} y={144} size={31}>tdTomato</Txt>
      <Txt x={1150} y={115} size={31}>peak</Txt>
      <Tri cx={1175} top={130} />
      <Txt x={1043} y={191} size={31}>base</Txt>
      <Tri cx={1073} top={224} />
      <TracePanel x0={1045} pps={2.35} y0={267.6} tEnd={145} datasets={tracesets(C_S_T, C_S_GREEN, C_S_RED, [C_S_1, C_S_2, C_S_3, C_S_4, C_S_5, C_S_6, C_S_7])} />
      <Txt x={1150} y={306} size={31}>peak</Txt>
      <Tri cx={1175} top={339} />
      <Txt x={1043} y={409} size={31}>base</Txt>
      <Tri cx={1073} top={433} />
      <TracePanel x0={1045} pps={2.35} y0={467} tEnd={145} datasets={tracesets(C_I_T, C_I_GREEN, C_I_RED, [C_I_1, C_I_2, C_I_3])} />
      <Box l={1315} t={305} w={2} h={46} />
      <Box l={1315} t={349} w={64} h={2} />
      <RotTxt cx={1294} yb={413} size={31}>2 ΔF/F<Sub>0</Sub></RotTxt>
      <Txt x={1323} y={400} size={31}>30 s</Txt>
      <Txt x={1050} y={527} size={32}>23.6°C</Txt>
      <TempPanel x0={1045} pps={2.35} y0={541} ppd={5.9} tref={23.6} T={C_TEMP_T} V={C_TEMP} dash={[0.85, 144.3]} dashColor="#000" />
      <Txt x={1148} y={614} size={32}>17.4°C</Txt>

      {/* thin-trace legend */}
      {THIN_LABELS.map((lab, i) => {
        const lx = [511, 603, 685, 754, 844, 924, 1010][i];
        return (
          <React.Fragment key={lab}>
            <Box l={lx} t={656} w={31} h={2} c={THIN_COLORS[i]} />
            <Txt x={lx + 37} y={669} size={33} family={NARROW}>{lab}</Txt>
          </React.Fragment>
        );
      })}

      {/* ---------- D ---------- */}
      <Txt x={5} y={789} size={62} weight={700}>D</Txt>
      <Txt x={233.5} y={800} size={30} anchor="middle">S-type</Txt>
      <Box l={151} t={812} w={165} h={2} />
      <Txt x={462.5} y={800} size={30} anchor="middle">I-type</Txt>
      <Box l={380} t={812} w={165} h={2} />
      <RotTxt cx={41.5} yb={984} size={30}>ΔF/F<Sub>0</Sub></RotTxt>
      <DChart />
      <Txt x={177} y={917} size={24} ls="2px">***</Txt>
      <Txt x={217} y={927} size={24} ls="2px">*** ***</Txt>
      <Txt x={299} y={866} size={24} ls="2px" color="#ff2020">***</Txt>
      {[[134, 1111, 0], [285, 1111, 1], [419, 1111, 2], [134, 1163, 3], [285, 1163, 4]].map(([x, y, c]) => (
        <Box key={`${x}-${y}`} l={x - 5} t={y - 5} w={10} h={10} c={D_COLORS[c]} r={5} />
      ))}
      <Txt x={153} y={1122} size={34} family={NARROW}>control</Txt>
      <Txt x={308} y={1122} size={34} family={NARROW}><Rh sup="1/G" /></Txt>
      <Txt x={439} y={1122} size={34} family={NARROW}><Rh sup="1" /></Txt>
      <Txt x={153} y={1174} size={34} family={NARROW}><Rh sup="G" /></Txt>
      <Txt x={308} y={1174} size={35} family={NARROW} italic ls="1.6px">Gr66a&gt;UAS-rh6,</Txt>
      <Txt x={308} y={1214} size={34} family={NARROW}><Rh sup="1/G" /></Txt>

      {/* ---------- E ---------- */}
      <Txt x={597} y={789} size={62} weight={700}>E</Txt>
      <Txt x={737} y={790} size={34} family={NARROW}>S6</Txt>
      <Txt x={842} y={852} size={36} family={NARROW} anchor="end">control</Txt>
      <Txt x={842} y={941} size={36} family={NARROW} anchor="end"><Rh sup="G" /></Txt>
      <Txt x={842} y={1038} size={36} family={NARROW} anchor="end"><Rh sup="1" /></Txt>
      <Txt x={842} y={1142} size={37} family={NARROW} anchor="end" italic ls="1.2px">Gr66a&gt;UAS-rh6,</Txt>
      <Txt x={603} y={1174} size={36} family={NARROW}><Rh sup="1/G" /></Txt>
      <ETrace base={839} datasets={[
        line(spikeData(E_CTRL_SPIKES, E_UP[0], E_DOWN[0]), "#555", 0.9),
        line(spikeData(E_CTRL_BURST, E_UP[0] * 0.95, E_DOWN[0] * 1.1), "#a0a0a0", 0.7),
        ...envelope(E_CTRL_NT, E_CTRL_NHW, "#000"),
        ...envelope(E_CTRL_GT, E_CTRL_GHW, "#888"),
      ]} />
      <ETrace base={929} datasets={[
        line(spikeData(E_RH6G_SPIKES, E_UP[1], E_DOWN[1]), "#555", 0.9),
        line(spikeData(E_RH6G_LONG, E_UP[1], 1.6), "#555", 0.9),
        ...envelope(E_RH6G_NT, E_RH6G_NHW, "#000"),
        ...envelope(E_RH6G_GT, E_RH6G_GHW, "#888"),
      ]} />
      <ETrace base={1026} datasets={[
        line(spikeData(E_RH61_SPIKES, E_UP[2], E_DOWN[2]), "#555", 0.9),
        ...envelope(E_RH61_NT, E_RH61_NHW, "#000"),
      ]} />
      <ETrace base={1129} datasets={[
        line(spikeData(E_GR_SPIKES, E_UP[3], E_DOWN[3]), "#555", 0.9),
        ...envelope(E_GR_NT, E_GR_NHW, "#000"),
      ]} />
      <Box l={1407} t={850} w={1.5} h={58} c="#333" />
      <Box l={1407} t={906} w={20} h={1.5} c="#333" />
      <Txt x={1318} y={890} size={35} family={NARROW}>2 mV</Txt>
      <Txt x={1401} y={941} size={34} family={NARROW}>1 s</Txt>
      <Txt x={863} y={1195} size={35} family={NARROW}>23°C</Txt>
      <MappedChart left={845} top={1190} width={510} height={80} x0={850} pps={20.67} y0={1211.5} ppu={7.67} v0={23} datasets={[line(pts(E_TEMP_T, E_TEMP), "#000", 1.6)]} />
      <Txt x={1257} y={1241} size={35} family={NARROW}>17°C</Txt>

      {/* ---------- F-I ---------- */}
      <Txt x={8} y={1356} size={62} weight={700}>F</Txt>
      <Txt x={133} y={1358} size={31}>control</Txt>
      <Txt x={253} y={1356} size={62} weight={700}>G</Txt>
      <Txt x={378} y={1358} size={31}><Rh sup="G" /></Txt>
      <Txt x={480} y={1356} size={62} weight={700}>H</Txt>
      <Txt x={595} y={1358} size={31}><Rh sup="1" /></Txt>
      <Txt x={702} y={1356} size={62} weight={700}>I</Txt>
      <Txt x={733} y={1358} size={31} italic>Gr66a&gt;UAS-rh6,</Txt>
      <Txt x={733} y={1387} size={31}><Rh sup="1/G" /></Txt>
      <RotTxt cx={38.5} yb={1567} size={31}>Spikes/s</RotTxt>
      <RotTxt cx={38.5} yb={1717} size={31}>Temp.</RotTxt>
      <FIPanel ax={118} T={F_T} M={F_M} SEM={F_SEM} />
      <FIPanel ax={343} T={G_T} M={G_M} SEM={G_SEM} />
      <FIPanel ax={570} T={H_T} M={H_M} SEM={H_SEM} />
      <FIPanel ax={780} T={I_T} M={I_M} SEM={I_SEM} />
      {[118, 343, 570, 780].map((ax) => (
        <Txt key={ax} x={ax + 72} y={1790} size={31} anchor="middle">Time (s)</Txt>
      ))}

      {/* ---------- J ---------- */}
      <Txt x={990} y={1352} size={62} weight={700}>J</Txt>
      <RotTxt cx={1021.5} yb={1508} size={31}>Spikes/s</RotTxt>
      <JChart />
      <Txt x={1197} y={1346} size={24} ls="2px">***</Txt>
      <Txt x={1162} y={1375} size={24} ls="2px">***</Txt>
      <Txt x={1308} y={1406} size={24} ls="2px">***</Txt>
      <RotTxt cx={1149} yb={1645} size={31}>control</RotTxt>
      <RotTxt cx={1223} yb={1612} size={31}><Rh sup="G" /></RotTxt>
      <RotTxt cx={1294} yb={1610} size={31}><Rh sup="1" /></RotTxt>
      <RotTxt cx={1355} yb={1770} size={31} italic>Gr66a&gt;UAS-rh6,</RotTxt>
      <RotTxt cx={1391} yb={1788} size={31}><Rh sup="1/G" /></RotTxt>
    </div>
  );
}
